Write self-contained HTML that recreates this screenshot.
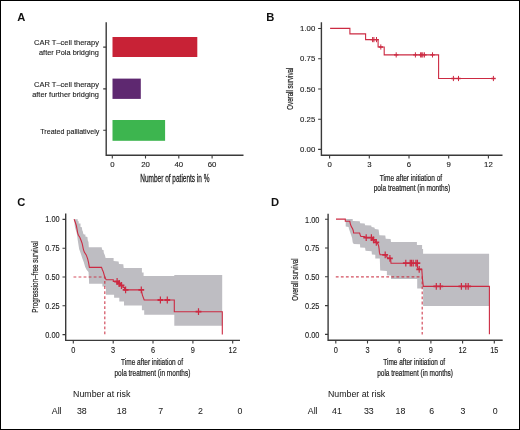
<!DOCTYPE html>
<html><head><meta charset="utf-8"><style>
html,body{margin:0;padding:0;background:#fff;}
body{width:520px;height:430px;overflow:hidden;}
.fig{position:relative;width:518px;height:428px;border:1px solid #000;background:#fff;}
svg{position:absolute;left:-1px;top:-1px;font-family:"Liberation Sans", sans-serif;will-change:transform;}
</style></head><body>
<div class="fig"><svg width="520" height="430" viewBox="0 0 520 430">
<text x="17.2" y="21" text-anchor="start" font-size="11.2" fill="#111" font-weight="bold">A</text>
<text x="266.2" y="20.8" text-anchor="start" font-size="11.2" fill="#111" font-weight="bold">B</text>
<text x="17.3" y="205.8" text-anchor="start" font-size="11.2" fill="#111" font-weight="bold">C</text>
<text x="271.0" y="205.8" text-anchor="start" font-size="11.2" fill="#111" font-weight="bold">D</text>
<rect x="112.5" y="37" width="84.8" height="20" fill="#c82236"/>
<rect x="112.5" y="78.6" width="28.3" height="20.3" fill="#5e2870"/>
<rect x="112.5" y="120" width="52.6" height="20.8" fill="#3db54f"/>
<path d="M106.2,22.3V155.2H243.5" stroke="#3a3a3a" stroke-width="1.4" fill="none"/>
<path d="M103.2,47.1H106.2M103.2,88.9H106.2M103.2,130.2H106.2M112.3,155.2V158.4M145.5,155.2V158.4M178.8,155.2V158.4M212.1,155.2V158.4" stroke="#3a3a3a" stroke-width="1.1" fill="none"/>
<text x="112.3" y="167.1" text-anchor="middle" font-size="7.8" fill="#222" font-weight="normal" stroke="#222" stroke-width="0.12">0</text>
<text x="145.5" y="167.1" text-anchor="middle" font-size="7.8" fill="#222" font-weight="normal" stroke="#222" stroke-width="0.12">20</text>
<text x="178.8" y="167.1" text-anchor="middle" font-size="7.8" fill="#222" font-weight="normal" stroke="#222" stroke-width="0.12">40</text>
<text x="212.1" y="167.1" text-anchor="middle" font-size="7.8" fill="#222" font-weight="normal" stroke="#222" stroke-width="0.12">60</text>
<text transform="translate(98.9,45.2) scale(0.975,1)" text-anchor="end" font-size="7.7" fill="#222" font-weight="normal" stroke="#222" stroke-width="0.12">CAR T–cell therapy</text>
<text transform="translate(98.9,54.6) scale(0.96,1)" text-anchor="end" font-size="7.7" fill="#222" font-weight="normal" stroke="#222" stroke-width="0.12">after Pola bridging</text>
<text transform="translate(98.9,87.2) scale(0.975,1)" text-anchor="end" font-size="7.7" fill="#222" font-weight="normal" stroke="#222" stroke-width="0.12">CAR T–cell therapy</text>
<text transform="translate(98.9,96.5) scale(0.964,1)" text-anchor="end" font-size="7.7" fill="#222" font-weight="normal" stroke="#222" stroke-width="0.12">after further bridging</text>
<text transform="translate(99.3,133.6) scale(0.925,1)" text-anchor="end" font-size="7.7" fill="#222" font-weight="normal" stroke="#222" stroke-width="0.12">Treated palliatively</text>
<text transform="translate(174.9,181.9) scale(0.63,1)" text-anchor="middle" font-size="10.3" fill="#222" stroke="#222" stroke-width="0.28">Number of patients in %</text>
<path d="M321.4,22.3V155.2H502.5" stroke="#3a3a3a" stroke-width="1.4" fill="none"/>
<path d="M318.1,149.4H321.4M318.1,119.2H321.4M318.1,89.0H321.4M318.1,58.7H321.4M318.1,28.5H321.4M329.6,155.2V158.6M369.3,155.2V158.6M409.0,155.2V158.6M448.7,155.2V158.6M488.4,155.2V158.6" stroke="#3a3a3a" stroke-width="1.1" fill="none"/>
<text x="315.3" y="152.15" text-anchor="end" font-size="7.8" fill="#222" font-weight="normal" stroke="#222" stroke-width="0.12">0.00</text>
<text x="315.3" y="121.92500000000001" text-anchor="end" font-size="7.8" fill="#222" font-weight="normal" stroke="#222" stroke-width="0.12">0.25</text>
<text x="315.3" y="91.7" text-anchor="end" font-size="7.8" fill="#222" font-weight="normal" stroke="#222" stroke-width="0.12">0.50</text>
<text x="315.3" y="61.474999999999994" text-anchor="end" font-size="7.8" fill="#222" font-weight="normal" stroke="#222" stroke-width="0.12">0.75</text>
<text x="315.3" y="31.25" text-anchor="end" font-size="7.8" fill="#222" font-weight="normal" stroke="#222" stroke-width="0.12">1.00</text>
<text x="329.6" y="167.1" text-anchor="middle" font-size="7.8" fill="#222" font-weight="normal" stroke="#222" stroke-width="0.12">0</text>
<text x="369.3" y="167.1" text-anchor="middle" font-size="7.8" fill="#222" font-weight="normal" stroke="#222" stroke-width="0.12">3</text>
<text x="409.0" y="167.1" text-anchor="middle" font-size="7.8" fill="#222" font-weight="normal" stroke="#222" stroke-width="0.12">6</text>
<text x="448.70000000000005" y="167.1" text-anchor="middle" font-size="7.8" fill="#222" font-weight="normal" stroke="#222" stroke-width="0.12">9</text>
<text x="488.40000000000003" y="167.1" text-anchor="middle" font-size="7.8" fill="#222" font-weight="normal" stroke="#222" stroke-width="0.12">12</text>
<text transform="translate(411,180.9) scale(0.745,1)" text-anchor="middle" font-size="8.8" fill="#222" stroke="#222" stroke-width="0.22">Time after initiation of</text>
<text transform="translate(411.9,191.1) scale(0.745,1)" text-anchor="middle" font-size="8.8" fill="#222" stroke="#222" stroke-width="0.22">pola treatment (in months)</text>
<text transform="translate(292.6,88.7) rotate(-90) scale(0.75,1)" text-anchor="middle" font-size="8.2" fill="#222" stroke="#222" stroke-width="0.2">Overall survival</text>
<path d="M330.1,28.4H349.9V33.9H365.6V39.6H378.1V47.0H384.2V54.9H438.6V78.5H495.4" stroke="#cc2a42" stroke-width="1.1" fill="none"/>
<path d="M372.6,37.0V42.2M373.9,37.0V42.2M376.5,37.0V42.2M380.8,44.4V49.6M396.2,52.3V57.5M415.4,52.3V57.5M420.6,52.3V57.5M421.7,52.3V57.5M422.8,52.3V57.5M424.4,52.3V57.5M432.5,52.3V57.5M453.4,75.9V81.1M458.5,75.9V81.1M493.4,75.9V81.1" stroke="#cc2a42" stroke-width="1.0" fill="none"/><path d="M370.40000000000003,39.6H374.8M371.7,39.6H376.09999999999997M374.3,39.6H378.7M378.6,47.0H383.0M394.0,54.9H398.4M413.2,54.9H417.59999999999997M418.40000000000003,54.9H422.8M419.5,54.9H423.9M420.6,54.9H425.0M422.2,54.9H426.59999999999997M430.3,54.9H434.7M451.2,78.5H455.59999999999997M456.3,78.5H460.7M491.2,78.5H495.59999999999997" stroke="#cc2a42" stroke-width="1.3" fill="none"/>
<polygon points="73.8,219.2 77.7,219.2 77.7,221.3 78.7,221.3 78.7,223.4 80.5,223.4 80.5,226.9 81.9,227.2 82.2,230.3 82.7,231 83.3,233.8 84,234.5 85.4,234.5 85.4,236.6 87.4,237 87.8,240.6 88.5,242 88.8,247.2 101.7,247.2 102.1,249.7 103.5,250 103.8,252.8 104.9,255.2 105.6,258 113.6,258 113.6,261 118.6,261.5 119,264 123.3,264.3 123.7,268 141.9,268 141.9,272.4 143.6,272.4 143.6,275.9 174.3,275.9 174.3,274.9 222.2,274.9 222.2,325.7 174.3,325.7 174.3,314.8 144.2,314.8 144.2,310.2 141.9,310.2 141.9,305.6 124,305.6 124,301.6 119.3,301.6 119.3,297.7 114.1,297.7 114.1,294.8 105.9,294.8 105.9,286.6 102.4,286.6 102.4,283.7 89.1,283.7 89,280 88.5,272.1 86.6,269.8 85.2,267 83.8,262.3 82.4,258.6 80.6,253 79.2,249.3 78.3,243.7 77.7,240.1 77.3,236.6 77,234.5 76.3,231.7 74.9,226.9 74.5,222.7" fill="#bebdc2"/>
<path d="M73.5,277H104.8V334.6" stroke="#c82236" stroke-width="1.2" stroke-dasharray="2.8 2.25" fill="none" opacity="0.8"/>
<path d="M74.1,219.2L75.2,222L76.3,225.5L77,229L77.7,233.1L78.4,235.2L79.8,237.3L81.2,240.8L82.2,243.6L83.4,249.3L84.3,252.1L86.2,254.9L87.6,258.6L88.5,262.3L89.4,267.4H101.5L102.4,269.8L103.4,272.1L104.3,275.3L105.2,278.1L106.2,279.7H113.3V281.5H119.5V283.5H121V285.5H123V287.5H124.5V289.9H141.3L142.4,295.1L144.2,300H174.3V311.7H222.3V334.5" stroke="#cc2a42" stroke-width="1.1" fill="none"/>
<path d="M117.1,278.1V284.9M119.2,280.1V286.9M121.5,282.1V288.9M125.6,286.5V293.29999999999995M141.3,286.5V293.29999999999995M160.4,296.6V303.4M167.3,296.6V303.4M198.5,308.3V315.09999999999997" stroke="#cc2a42" stroke-width="1.2" fill="none"/><path d="M114.19999999999999,281.5H120.0M116.3,283.5H122.10000000000001M118.6,285.5H124.4M122.69999999999999,289.9H128.5M138.4,289.9H144.20000000000002M157.5,300H163.3M164.4,300H170.20000000000002M195.6,311.7H201.4" stroke="#cc2a42" stroke-width="1.8" fill="none"/>
<path d="M65.7,213.5V340.4H240" stroke="#3a3a3a" stroke-width="1.4" fill="none"/>
<path d="M62.5,334.6H65.7M62.5,305.8H65.7M62.5,277.0H65.7M62.5,248.2H65.7M62.5,219.4H65.7M73.3,340.4V343.6M113.2,340.4V343.6M153.0,340.4V343.6M192.9,340.4V343.6M232.7,340.4V343.6" stroke="#3a3a3a" stroke-width="1.1" fill="none"/>
<text transform="translate(59.6,337.5) scale(0.9,1)" text-anchor="end" font-size="8.2" fill="#222" font-weight="normal" stroke="#222" stroke-width="0.12">0.00</text>
<text transform="translate(59.6,308.7) scale(0.9,1)" text-anchor="end" font-size="8.2" fill="#222" font-weight="normal" stroke="#222" stroke-width="0.12">0.25</text>
<text transform="translate(59.6,279.9) scale(0.9,1)" text-anchor="end" font-size="8.2" fill="#222" font-weight="normal" stroke="#222" stroke-width="0.12">0.50</text>
<text transform="translate(59.6,251.10000000000002) scale(0.9,1)" text-anchor="end" font-size="8.2" fill="#222" font-weight="normal" stroke="#222" stroke-width="0.12">0.75</text>
<text transform="translate(59.6,222.30000000000004) scale(0.9,1)" text-anchor="end" font-size="8.2" fill="#222" font-weight="normal" stroke="#222" stroke-width="0.12">1.00</text>
<text transform="translate(73.3,352.7) scale(0.9,1)" text-anchor="middle" font-size="8.2" fill="#222" font-weight="normal" stroke="#222" stroke-width="0.12">0</text>
<text transform="translate(113.15,352.7) scale(0.9,1)" text-anchor="middle" font-size="8.2" fill="#222" font-weight="normal" stroke="#222" stroke-width="0.12">3</text>
<text transform="translate(153.0,352.7) scale(0.9,1)" text-anchor="middle" font-size="8.2" fill="#222" font-weight="normal" stroke="#222" stroke-width="0.12">6</text>
<text transform="translate(192.85000000000002,352.7) scale(0.9,1)" text-anchor="middle" font-size="8.2" fill="#222" font-weight="normal" stroke="#222" stroke-width="0.12">9</text>
<text transform="translate(232.7,352.7) scale(0.9,1)" text-anchor="middle" font-size="8.2" fill="#222" font-weight="normal" stroke="#222" stroke-width="0.12">12</text>
<text transform="translate(152.0,365.4) scale(0.7,1)" text-anchor="middle" font-size="9.3" fill="#222" stroke="#222" stroke-width="0.22">Time after initiation of</text>
<text transform="translate(152.4,376.2) scale(0.7,1)" text-anchor="middle" font-size="9.3" fill="#222" stroke="#222" stroke-width="0.22">pola treatment (in months)</text>
<text transform="translate(38.2,276.9) rotate(-90) scale(0.69,1)" text-anchor="middle" font-size="9.2" fill="#222" stroke="#222" stroke-width="0.18">Progression–free survival</text>
<text x="101.7" y="396.9" text-anchor="middle" font-size="8.8" fill="#222" font-weight="normal" stroke="#222" stroke-width="0.04">Number at risk</text>
<text x="56.7" y="414.2" text-anchor="middle" font-size="8.8" fill="#222" font-weight="normal" stroke="#222" stroke-width="0.04">All</text>
<text x="81.8" y="414.2" text-anchor="middle" font-size="8.8" fill="#222" font-weight="normal" stroke="#222" stroke-width="0.04">38</text>
<text x="121.7" y="414.2" text-anchor="middle" font-size="8.8" fill="#222" font-weight="normal" stroke="#222" stroke-width="0.04">18</text>
<text x="160.8" y="414.2" text-anchor="middle" font-size="8.8" fill="#222" font-weight="normal" stroke="#222" stroke-width="0.04">7</text>
<text x="200.5" y="414.2" text-anchor="middle" font-size="8.8" fill="#222" font-weight="normal" stroke="#222" stroke-width="0.04">2</text>
<text x="240" y="414.2" text-anchor="middle" font-size="8.8" fill="#222" font-weight="normal" stroke="#222" stroke-width="0.04">0</text>
<polygon points="345.1,219.1 352.7,219.1 352.7,221 359.7,221.3 360.2,223.2 364.7,223.5 365.1,225.2 371.2,225.6 371.6,227.1 374.4,227.5 374.9,229 378.6,229.5 379.4,235.3 385.3,235.5 385.7,238.7 390.6,239 391,242 416.9,242 416.9,245.1 422.1,245.1 422.1,249 423.1,249 423.1,253.8 489.1,253.8 489.1,306 423.1,306 423.1,288.6 417.2,288.6 417.2,278.9 391,278.9 391,275.6 386.9,275.3 386.9,271 380.2,270.6 379.8,258.5 375.3,258.5 375.3,254.8 371.9,254.5 371.6,251.3 365.5,250.8 365.1,247.8 360.2,247.5 360,244.3 353.8,243.9 352.7,242.6 352.1,237.9 350.9,234.4 349,229 348.6,226.9 345.7,226.5 345.7,221.6" fill="#bebdc2"/>
<path d="M335.8,276.9H422.2V334.4" stroke="#c82236" stroke-width="1.2" stroke-dasharray="2.8 2.25" fill="none" opacity="0.8"/>
<path d="M336,219.1H345.3V221.3H349.8L350.5,224.5L351.5,226.9L352.6,228.7L353.3,230.7L353.6,233H359.6L360.2,235L360.9,236.5H364.1L366.2,237.6H371.4L372.5,238.5L373.5,239.9L375.3,241.3L376.3,242.3L378,244L378.7,246.1L379.1,248.9L379.4,252.4L380.1,254.8H384.7L386.8,256.4L387.3,258H390.5L391,263.2H416.9L417.2,266.5L418.2,268.9L419.2,269.4H421.8L422.4,278.3L422.9,282.5L423.3,286.4H489.4V334.3" stroke="#cc2a42" stroke-width="1.1" fill="none"/>
<path d="M366.2,234.2V241.0M371.4,234.2V241.0M373.5,236.5V243.3M376.3,238.9V245.70000000000002M385.2,251.4V258.2M389.9,254.9V261.7M405.8,259.8V266.59999999999997M410.2,259.8V266.59999999999997M411.5,259.8V266.59999999999997M413.2,259.8V266.59999999999997M415.9,259.8V266.59999999999997M417.4,259.8V266.59999999999997M419.2,266.0V272.79999999999995M436.3,283.0V289.79999999999995M440.3,283.0V289.79999999999995M461.4,283.0V289.79999999999995M465.8,283.0V289.79999999999995M468.2,283.0V289.79999999999995" stroke="#cc2a42" stroke-width="1.2" fill="none"/><path d="M363.3,237.6H369.09999999999997M368.5,237.6H374.29999999999995M370.6,239.9H376.4M373.40000000000003,242.3H379.2M382.3,254.8H388.09999999999997M387.0,258.3H392.79999999999995M402.90000000000003,263.2H408.7M407.3,263.2H413.09999999999997M408.6,263.2H414.4M410.3,263.2H416.09999999999997M413.0,263.2H418.79999999999995M414.5,263.2H420.29999999999995M416.3,269.4H422.09999999999997M433.40000000000003,286.4H439.2M437.40000000000003,286.4H443.2M458.5,286.4H464.29999999999995M462.90000000000003,286.4H468.7M465.3,286.4H471.09999999999997" stroke="#cc2a42" stroke-width="1.8" fill="none"/>
<path d="M328.1,213.7V340.3H502.7" stroke="#3a3a3a" stroke-width="1.4" fill="none"/>
<path d="M325,334.4H328.1M325,305.6H328.1M325,276.8H328.1M325,248.0H328.1M325,219.2H328.1M335.8,340.3V343.6M367.5,340.3V343.6M399.2,340.3V343.6M430.9,340.3V343.6M462.6,340.3V343.6M494.3,340.3V343.6" stroke="#3a3a3a" stroke-width="1.1" fill="none"/>
<text transform="translate(319.4,337.7) scale(0.9,1)" text-anchor="end" font-size="8.2" fill="#222" font-weight="normal" stroke="#222" stroke-width="0.12">0.00</text>
<text transform="translate(319.4,308.9) scale(0.9,1)" text-anchor="end" font-size="8.2" fill="#222" font-weight="normal" stroke="#222" stroke-width="0.12">0.25</text>
<text transform="translate(319.4,280.09999999999997) scale(0.9,1)" text-anchor="end" font-size="8.2" fill="#222" font-weight="normal" stroke="#222" stroke-width="0.12">0.50</text>
<text transform="translate(319.4,251.29999999999998) scale(0.9,1)" text-anchor="end" font-size="8.2" fill="#222" font-weight="normal" stroke="#222" stroke-width="0.12">0.75</text>
<text transform="translate(319.4,222.5) scale(0.9,1)" text-anchor="end" font-size="8.2" fill="#222" font-weight="normal" stroke="#222" stroke-width="0.12">1.00</text>
<text transform="translate(335.8,352.6) scale(0.9,1)" text-anchor="middle" font-size="8.2" fill="#222" font-weight="normal" stroke="#222" stroke-width="0.12">0</text>
<text transform="translate(367.5,352.6) scale(0.9,1)" text-anchor="middle" font-size="8.2" fill="#222" font-weight="normal" stroke="#222" stroke-width="0.12">3</text>
<text transform="translate(399.2,352.6) scale(0.9,1)" text-anchor="middle" font-size="8.2" fill="#222" font-weight="normal" stroke="#222" stroke-width="0.12">6</text>
<text transform="translate(430.9,352.6) scale(0.9,1)" text-anchor="middle" font-size="8.2" fill="#222" font-weight="normal" stroke="#222" stroke-width="0.12">9</text>
<text transform="translate(462.6,352.6) scale(0.9,1)" text-anchor="middle" font-size="8.2" fill="#222" font-weight="normal" stroke="#222" stroke-width="0.12">12</text>
<text transform="translate(494.3,352.6) scale(0.9,1)" text-anchor="middle" font-size="8.2" fill="#222" font-weight="normal" stroke="#222" stroke-width="0.12">15</text>
<text transform="translate(414.2,365.4) scale(0.7,1)" text-anchor="middle" font-size="9.3" fill="#222" stroke="#222" stroke-width="0.22">Time after initiation of</text>
<text transform="translate(415.1,376.2) scale(0.7,1)" text-anchor="middle" font-size="9.3" fill="#222" stroke="#222" stroke-width="0.22">pola treatment (in months)</text>
<text transform="translate(297.9,279.6) rotate(-90) scale(0.66,1)" text-anchor="middle" font-size="9.4" fill="#222" stroke="#222" stroke-width="0.2">Overall survival</text>
<text x="356.6" y="396.9" text-anchor="middle" font-size="8.8" fill="#222" font-weight="normal" stroke="#222" stroke-width="0.04">Number at risk</text>
<text x="312.7" y="414.2" text-anchor="middle" font-size="8.8" fill="#222" font-weight="normal" stroke="#222" stroke-width="0.04">All</text>
<text x="337" y="414.2" text-anchor="middle" font-size="8.8" fill="#222" font-weight="normal" stroke="#222" stroke-width="0.04">41</text>
<text x="368.8" y="414.2" text-anchor="middle" font-size="8.8" fill="#222" font-weight="normal" stroke="#222" stroke-width="0.04">33</text>
<text x="400.5" y="414.2" text-anchor="middle" font-size="8.8" fill="#222" font-weight="normal" stroke="#222" stroke-width="0.04">18</text>
<text x="431.6" y="414.2" text-anchor="middle" font-size="8.8" fill="#222" font-weight="normal" stroke="#222" stroke-width="0.04">6</text>
<text x="463" y="414.2" text-anchor="middle" font-size="8.8" fill="#222" font-weight="normal" stroke="#222" stroke-width="0.04">3</text>
<text x="495.1" y="414.2" text-anchor="middle" font-size="8.8" fill="#222" font-weight="normal" stroke="#222" stroke-width="0.04">0</text>
</svg></div>
</body></html>
